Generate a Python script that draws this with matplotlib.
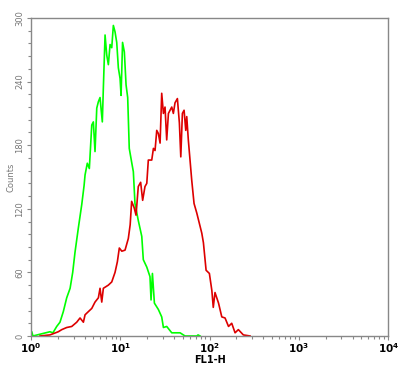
import matplotlib
matplotlib.use("Agg")
import matplotlib.pyplot as plt
from matplotlib.ticker import MultipleLocator, LogLocator, NullFormatter, FixedLocator

# green histogram (FL1-H channel value, counts)
green_x = [1.00, 1.02, 1.05, 1.63, 1.76, 1.94, 2.11, 2.30, 2.51, 2.74, 2.93, 3.11, 3.39,
           3.70, 3.93, 4.03, 4.27, 4.50, 4.79, 4.99, 5.21, 5.45, 5.68, 5.93, 6.08, 6.29,
           6.46, 6.75, 7.05, 7.35, 7.68, 8.02, 8.36, 8.73, 9.12, 9.51, 9.94, 10.2, 10.6,
           11.1, 11.6, 12.1, 12.6, 13.4, 14.0, 14.6, 15.9, 17.4, 18.1, 19.8, 21.5, 22.1,
           22.9, 24.1, 26.7, 29.1, 30.4, 33.1, 37.7, 46.7, 53.1, 71.9, 74.3, 78.3]
green_y = [0, 4, 0, 4, 3, 9, 13, 23, 36, 45, 60, 79, 102,
           124, 142, 152, 163, 158, 199, 202, 174, 215, 221, 225, 215, 202,
           234, 284, 265, 256, 275, 272, 293, 287, 277, 253, 243, 227, 277,
           268, 237, 225, 177, 164, 155, 125, 109, 94, 72, 65, 56, 34,
           59, 31, 25, 18, 8, 9, 3, 3, 0, 0, 1, 0]

# red histogram
red_x = [1.26, 1.63, 2.02, 2.21, 2.51, 2.86, 3.25, 3.54, 3.86, 4.03, 4.39, 4.79, 5.21,
         5.68, 5.93, 6.20, 6.46, 7.35, 8.02, 8.73, 9.27, 9.75, 10.4, 11.3, 12.3, 12.9,
         13.4, 14.3, 15.0, 15.9, 16.9, 17.8, 18.9, 19.8, 20.6, 22.5, 23.5, 24.5, 25.6,
         26.7, 27.9, 29.1, 30.4, 31.7, 33.1, 34.6, 36.1, 37.7, 39.3, 41.0, 43.6, 45.9,
         47.6, 49.6, 51.8, 54.1, 55.5, 57.8, 60.4, 63.1, 67.0, 71.9, 81.8, 85.3, 91.4,
         99.5, 106, 110, 115, 126, 137, 149, 163, 177, 193, 210, 239, 284]
red_y = [0, 1, 4, 6, 8, 9, 13, 17, 13, 20, 23, 26, 32,
         36, 45, 32, 45, 48, 51, 60, 70, 83, 80, 81, 92, 105,
         127, 121, 114, 141, 145, 128, 141, 144, 166, 166, 177, 175, 194,
         191, 182, 229, 210, 216, 185, 210, 213, 216, 210, 220, 224, 201,
         169, 210, 213, 194, 207, 185, 166, 147, 125, 116, 97, 88, 62,
         59, 43, 27, 41, 31, 18, 17, 9, 12, 3, 6, 1, 0]

y_ticks = [0, 60, 120, 180, 240, 300]
x_ticks = [1, 10, 100, 1000, 10000]
x_labels = [r"$\mathbf{10^{0}}$", r"$\mathbf{10^{1}}$", r"$\mathbf{10^{2}}$",
            r"$\mathbf{10^{3}}$", r"$\mathbf{10^{4}}$"]

fig = plt.figure(figsize=(4.06, 3.68), dpi=100)
ax = fig.add_axes([0.0764, 0.087, 0.8796, 0.864])

ax.plot(green_x, green_y, color="#00ff00", lw=1.2)
ax.plot(red_x, red_y, color="#dd0000", lw=1.2)

ax.set_xscale("log")
ax.set_xlim(1, 10000)
ax.set_ylim(0, 300)

for s in ax.spines.values():
    s.set_color("#888888")
    s.set_linewidth(1.0)

ax.yaxis.set_major_locator(FixedLocator(y_ticks))
ax.yaxis.set_minor_locator(MultipleLocator(12))
ax.set_yticklabels([str(v) for v in y_ticks], rotation=90, va="center",
                   fontsize=6, color="#777777")
ax.xaxis.set_major_locator(FixedLocator(x_ticks))
ax.xaxis.set_minor_locator(LogLocator(base=10, subs=range(2, 10)))
ax.xaxis.set_minor_formatter(NullFormatter())
ax.set_xticklabels(x_labels, fontsize=7.5, color="black")

ax.tick_params(which="both", direction="out", colors="#888888", width=0.8)
ax.tick_params(which="major", length=3, pad=2)
ax.tick_params(which="minor", length=2)
ax.tick_params(axis="x", labelcolor="black", pad=1)
ax.tick_params(axis="y", labelcolor="#777777")

ax.set_ylabel("Counts", fontsize=6, color="#777777", labelpad=0)
ax.set_xlabel("FL1-H", fontsize=7, fontweight="bold", color="black", labelpad=0)

fig.savefig("out.png", dpi=100)
